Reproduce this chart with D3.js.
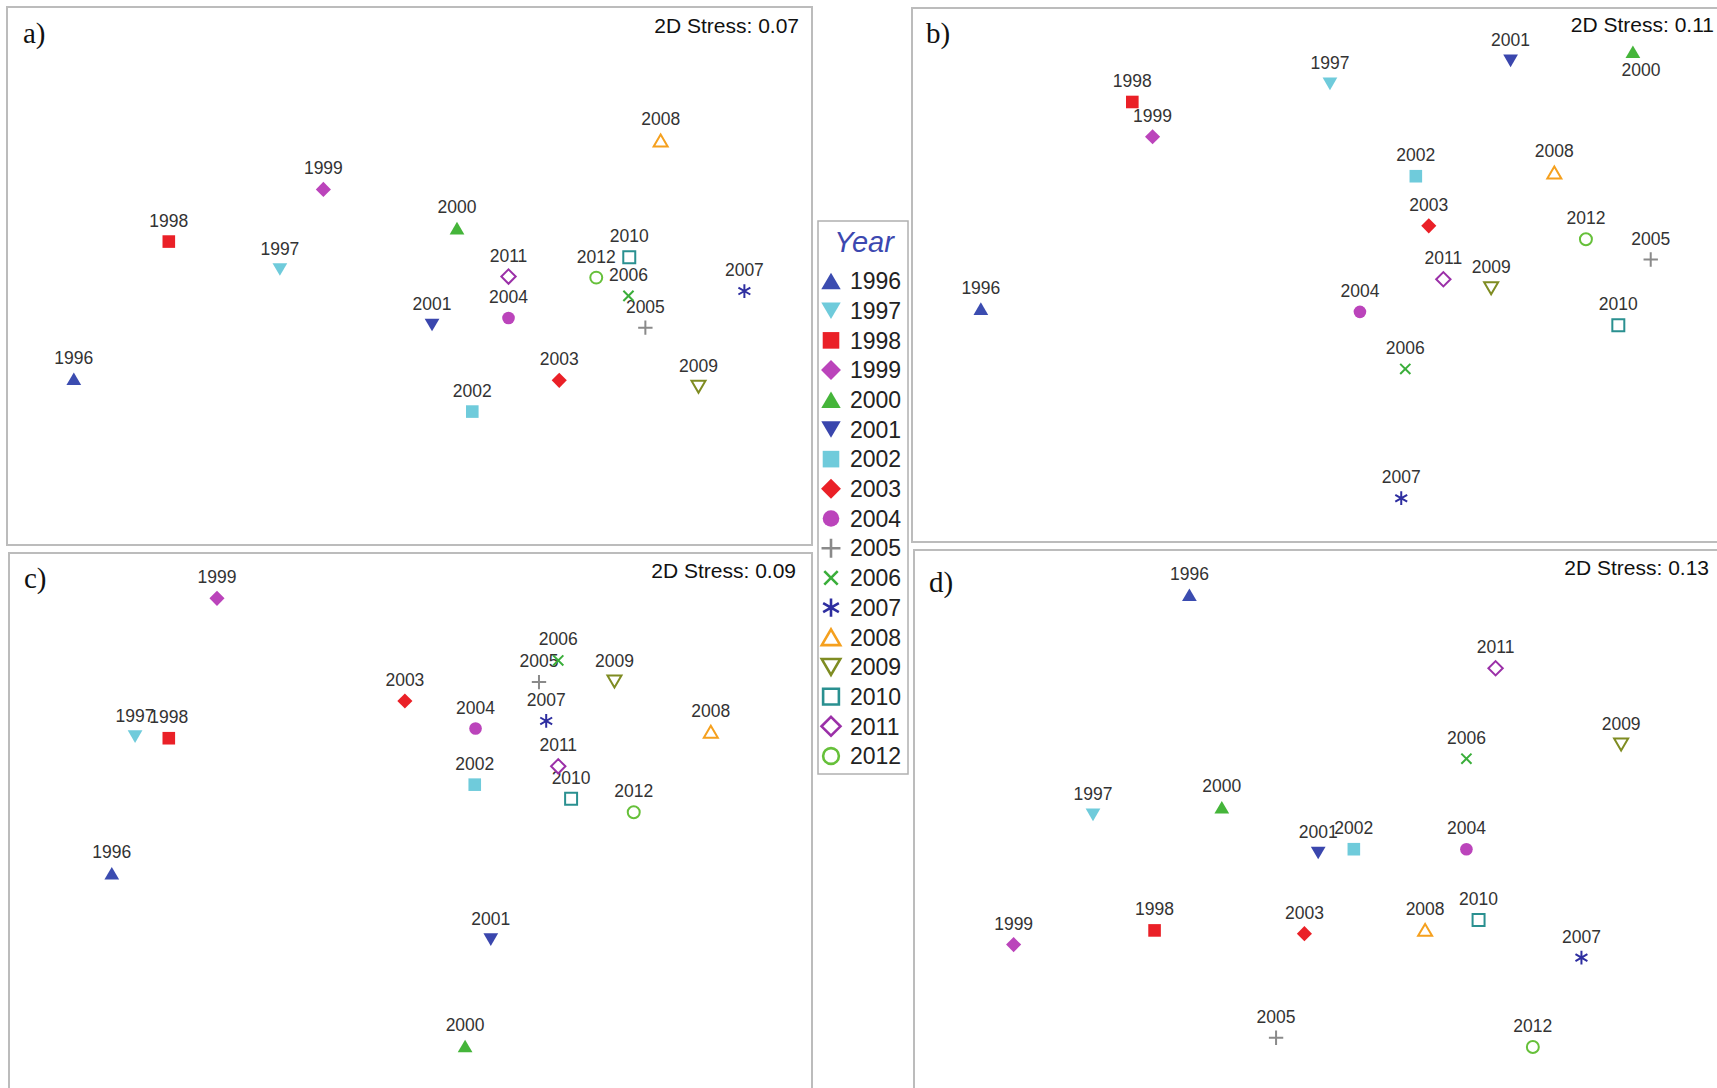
<!DOCTYPE html>
<html>
<head>
<meta charset="utf-8">
<script src="https://cdn.jsdelivr.net/npm/d3@7"></script>
<style>
body{margin:0;background:#fff;}
svg{display:block;}
</style>
</head>
<body>
<div id="nmds"></div>
<script>
// anios (misma lista para los cuatro paneles)
var years=[1996,1997,1998,1999,2000,2001,2002,2003,2004,2005,2006,2007,2008,2009,2010,2011,2012]

var aX=[8.3,33.9,20.1,39.3,55.9,52.8,57.8,68.6,62.3,79.3,77.2,91.6,81.2,85.9,77.3,62.3,73.2]
var aY=[30.9,51.2,56.4,66.1,58.9,40.9,24.8,30.6,42.2,40.4,46.3,47.2,75.2,29.4,53.5,49.9,49.7]

var bX=[8.5,51.6,27.2,29.7,89.0,73.9,62.2,63.8,55.3,91.2,60.9,60.4,79.3,71.5,87.2,65.6,83.2]
var bY=[43.7,85.8,82.4,75.9,91.8,90.1,68.5,59.2,43.1,52.9,32.4,8.2,69.2,47.5,40.6,49.2,56.7]

var cX=[12.8,15.7,19.9,25.9,56.8,60.0,58.0,49.3,58.1,66.0,68.4,66.9,87.4,75.4,70.0,68.4,77.8]
var cY=[40.7,66.0,65.7,91.6,8.7,28.4,57.1,72.6,67.5,76.1,80.1,68.9,66.9,76.2,54.5,60.5,52.0]

var dX=[34.0,22.1,29.7,12.3,38.0,49.9,54.3,48.2,68.2,44.7,68.2,82.4,63.1,87.3,69.7,71.8,76.4]
var dY=[91.8,51.4,30.2,27.6,52.8,44.4,45.1,29.6,45.1,10.5,61.7,25.2,30.3,64.3,32.1,78.3,8.8]

var stress=["0.07","0.11","0.09","0.13"]
var panelNames=["a)","b)","c)","d)"]

// estilo de cada anio
var simbolos={
	1996:["triUp","#3b4cb0",true],1997:["triDown","#6fcbdb",true],1998:["square","#ea2027",true],
	1999:["diamond","#bb44bb",true],2000:["triUp","#45b53a",true],2001:["triDown","#3a46ad",true],
	2002:["square","#6fcbdb",true],2003:["diamond","#ea2027",true],2004:["circle","#bb44bb",true],
	2005:["plus","#8a8a8a",false],2006:["x","#3aae3a",false],2007:["asterisk","#2e2ea0",false],
	2008:["triUp","#f5a01e",false],2009:["triDown","#7f8c22",false],2010:["square","#2a9090",false],
	2011:["diamond","#9b30a8",false],2012:["circle","#66c03a",false]
}

dibujar()

function markerPath(tipo,s){
	var p=d3.path()
	if(tipo=="triUp"){p.moveTo(0,-s);p.lineTo(1.17*s,s);p.lineTo(-1.17*s,s);p.closePath()}
	else if(tipo=="triDown"){p.moveTo(0,s);p.lineTo(1.17*s,-s);p.lineTo(-1.17*s,-s);p.closePath()}
	else if(tipo=="square"){p.rect(-s,-s,2*s,2*s)}
	else if(tipo=="diamond"){var k=1.2*s;p.moveTo(0,-k);p.lineTo(k,0);p.lineTo(0,k);p.lineTo(-k,0);p.closePath()}
	else if(tipo=="circle"){p.moveTo(s,0);p.arc(0,0,s,0,2*Math.PI)}
	else if(tipo=="plus"){var k=1.2*s;p.moveTo(-k,0);p.lineTo(k,0);p.moveTo(0,-k);p.lineTo(0,k)}
	else if(tipo=="x"){var k=0.85*s;p.moveTo(-k,-k);p.lineTo(k,k);p.moveTo(-k,k);p.lineTo(k,-k)}
	else if(tipo=="asterisk"){
		var k=1.15*s
		for(var a=0;a<3;a++){
			var t=Math.PI/2+a*Math.PI/3
			p.moveTo(-k*Math.cos(t),-k*Math.sin(t));p.lineTo(k*Math.cos(t),k*Math.sin(t))
		}
	}
	return p.toString()
}

function pintaMarca(sel,anio,s,sw){
	var st=simbolos[anio]
	var lineas=(st[0]=="plus"||st[0]=="x"||st[0]=="asterisk")
	var tam=st[2]?s:s*0.95
	sel.append("path")
		.attr("d",markerPath(st[0],tam))
		.style("fill",st[2]?st[1]:(lineas?"none":"#fff"))
		.style("stroke",st[2]?"none":st[1])
		.style("stroke-width",sw)
}

function dibujar(){
	var ancho=1717,alto=1088
	var svg=d3.select("#nmds").append("svg")
		.attr("width",ancho).attr("height",alto)

	//cajas de los paneles (b y d se salen por la derecha, c y d por abajo)
	var paneles=[
		{x:aX,y:aY,left:7,top:7,w:805,h:538,lab:[16,36],st:[13,26],below:[]},
		{x:bX,y:bY,left:912,top:8,w:810,h:534,lab:[14,35],st:[8,24],below:[2000]},
		{x:cX,y:cY,left:9,top:553,w:803,h:540,lab:[15,35],st:[16,25],below:[]},
		{x:dX,y:dY,left:914,top:550,w:810,h:545,lab:[15,42],st:[15,25],below:[]}
	]

	paneles.forEach(function(pn,i){
		var g=svg.append("g")
		g.append("rect")
			.attr("x",pn.left).attr("y",pn.top)
			.attr("width",pn.w).attr("height",pn.h)
			.style("fill","none").style("stroke","#bcbcbc").style("stroke-width",2)

		var xs=d3.scaleLinear().domain([0,100]).range([pn.left,pn.left+pn.w])
		var ys=d3.scaleLinear().domain([0,100]).range([pn.top+pn.h,pn.top])

		g.append("text")
			.attr("x",pn.left+pn.lab[0]).attr("y",pn.top+pn.lab[1])
			.style("font-family","'Liberation Serif','Times New Roman',serif")
			.style("font-size","29px").style("fill","#111")
			.text(panelNames[i])
		g.append("text")
			.attr("x",pn.left+pn.w-pn.st[0]).attr("y",pn.top+pn.st[1])
			.attr("text-anchor","end")
			.style("font-family","'Liberation Sans',Arial,sans-serif")
			.style("font-size","21px").style("fill","#111")
			.text("2D Stress: "+stress[i])

		var pts=g.selectAll("g.pt")
			.data(years)
			.enter()
			.append("g")
			.attr("class","pt")
			.attr("transform",function(d,j){return "translate("+xs(pn.x[j])+","+ys(pn.y[j])+")"})
		pts.each(function(d){pintaMarca(d3.select(this),d,6.3,2)})
		pts.append("text")
			.attr("text-anchor","middle")
			.attr("x",function(d){return pn.below.indexOf(d)>=0?8:0})
			.attr("y",function(d){return pn.below.indexOf(d)>=0?24:-15})
			.style("font-family","'Liberation Sans',Arial,sans-serif")
			.style("font-size","17.5px").style("fill","#333")
			.text(function(d){return d})
	})

	// leyenda
	var ley=svg.append("g")
	ley.append("rect")
		.attr("x",818).attr("y",221).attr("width",90).attr("height",553)
		.style("fill","#fff").style("stroke","#b0b0b0").style("stroke-width",1.5)
	ley.append("text")
		.attr("x",864).attr("y",252).attr("text-anchor","middle")
		.style("font-family","'Liberation Sans',Arial,sans-serif")
		.style("font-style","italic").style("font-size","29px").style("fill","#3c48b0")
		.text("Year")
	var fila=d3.scaleLinear().domain([0,years.length-1]).range([281,756])
	var items=ley.selectAll("g.it")
		.data(years)
		.enter()
		.append("g")
		.attr("class","it")
		.attr("transform",function(d,j){return "translate(831,"+fila(j)+")"})
	items.each(function(d){pintaMarca(d3.select(this),d,8.3,2.6)})
	items.append("text")
		.attr("x",19).attr("dy","0.36em")
		.style("font-family","'Liberation Sans',Arial,sans-serif")
		.style("font-size","23px").style("fill","#222")
		.text(function(d){return d})
}
</script>
</body>
</html>
